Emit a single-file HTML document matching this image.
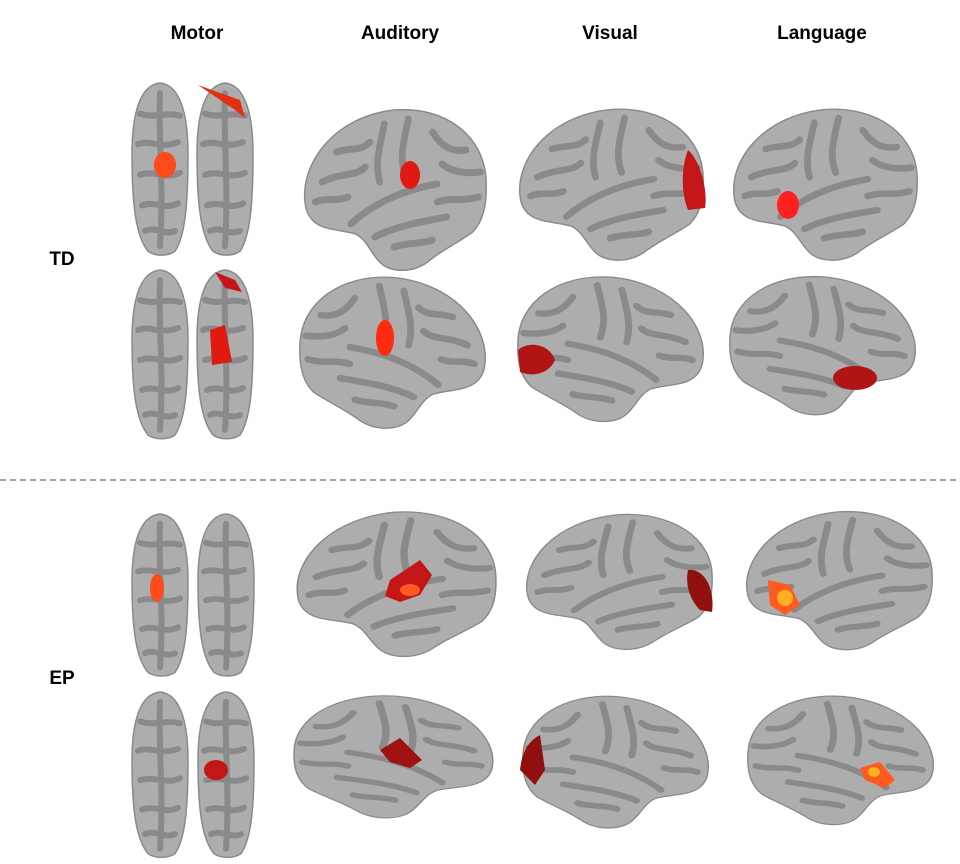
<!DOCTYPE html>
<html><head><meta charset="utf-8"><style>
body{margin:0;background:#fff;width:960px;height:864px;overflow:hidden;font-family:"Liberation Sans",sans-serif}
svg{position:absolute;left:0;top:0}
</style></head><body>
<svg width="960" height="864" viewBox="0 0 960 864" xmlns="http://www.w3.org/2000/svg">
<defs>
<g id="lat">
<path d="M8,105 C0,65 35,15 100,8 C155,4 195,35 196,80 C197,105 192,120 182,130 C168,140 150,148 135,160 C118,172 95,170 85,160 C75,150 72,138 60,132 C40,126 14,130 8,105 Z" fill="#adadad" stroke="#8a8a8a" stroke-width="1.5"/>
<g fill="none" stroke="#8a8a8a" stroke-width="7" stroke-linecap="round">
<path d="M55,122 C80,100 110,88 145,82"/>
<path d="M90,22 C85,45 80,60 85,80"/>
<path d="M115,17 C110,40 105,55 112,75"/>
<path d="M40,50 C55,45 65,50 75,40"/>
<path d="M25,80 C45,70 60,75 70,65"/>
<path d="M140,30 C150,45 160,50 175,48"/>
<path d="M145,100 C160,95 170,100 188,95"/>
<path d="M80,135 C100,125 125,120 155,115"/>
<path d="M150,62 C160,70 175,72 190,70"/>
<path d="M18,100 C30,95 40,100 52,95"/>
<path d="M100,145 C115,140 130,142 140,138"/>
</g>
</g>
<g id="top">
<path d="M30,0 C50,2 58,30 58,70 C58,120 55,150 45,165 C38,170 25,170 18,165 C6,150 2,120 2,70 C2,30 10,2 30,0 Z" fill="#adadad" stroke="#8a8a8a" stroke-width="1.5"/>
<g fill="none" stroke="#8a8a8a" stroke-width="6" stroke-linecap="round">
<path d="M10,30 C25,35 35,28 50,32"/>
<path d="M8,60 C20,55 30,65 48,58"/>
<path d="M10,90 C25,85 35,95 50,88"/>
<path d="M12,120 C25,115 35,125 48,118"/>
<path d="M15,145 C25,140 35,150 45,145"/>
<path d="M30,10 C28,50 34,100 30,160"/>
</g>
</g>
</defs>
<g font-weight="bold" font-size="19" fill="#000" text-anchor="middle">
<text x="197" y="39">Motor</text>
<text x="400" y="39">Auditory</text>
<text x="610" y="39">Visual</text>
<text x="822" y="39">Language</text>
<text x="62" y="265">TD</text>
<text x="62" y="684">EP</text>
</g>
<line x1="0" y1="480" x2="960" y2="480" stroke="#444" stroke-width="1" stroke-dasharray="6,4"/>

<use href="#top" transform="translate(130,83) scale(1,1.02)"/>
<use href="#top" transform="translate(195,83) scale(1,1.02)"/>
<ellipse cx="165" cy="165" rx="11" ry="13" fill="#ff4a1a"/>
<path d="M198,85 L240,100 L245,118 L235,110 Z" fill="#e03010"/>
<use href="#lat" transform="translate(298,102) scale(0.96,1.0)"/>
<ellipse cx="410" cy="175" rx="10" ry="14" fill="#e01a10"/>
<use href="#lat" transform="translate(513,102) scale(0.97,0.94)"/>
<path d="M688,150 C700,160 708,190 705,208 L688,210 C680,190 682,165 688,150 Z" fill="#c41616"/>
<use href="#lat" transform="translate(727,102) scale(0.97,0.94)"/>
<ellipse cx="788" cy="205" rx="11" ry="14" fill="#ff2020"/>

<use href="#top" transform="translate(130,270)"/>
<use href="#top" transform="translate(195,270)"/>
<path d="M210,330 L225,325 L232,362 L212,365 Z" fill="#e01a10"/>
<path d="M215,272 L235,280 L242,292 L225,288 Z" fill="#c41616"/>
<use href="#lat" transform="translate(492,270) scale(-0.98,0.94)"/>
<ellipse cx="385" cy="338" rx="9" ry="18" fill="#ff2a10"/>
<use href="#lat" transform="translate(710,270) scale(-0.98,0.9)"/>
<path d="M518,350 C530,340 550,345 555,360 C550,372 535,378 520,372 Z" fill="#b01414"/>
<use href="#lat" transform="translate(922,270) scale(-0.98,0.86)"/>
<ellipse cx="855" cy="378" rx="22" ry="12" fill="#b01414"/>

<use href="#top" transform="translate(130,514) scale(1,0.96)"/>
<use href="#top" transform="translate(196,514) scale(1,0.96)"/>
<ellipse cx="157" cy="588" rx="7" ry="14" fill="#ff4a1a"/>
<use href="#lat" transform="translate(290,505) scale(1.05,0.9)"/>
<path d="M390,580 L420,560 L432,575 L420,595 L400,602 L385,596 Z" fill="#c41616"/>
<ellipse cx="410" cy="590" rx="10" ry="6" fill="#ff5a20"/>
<use href="#lat" transform="translate(520,508) scale(0.98,0.84)"/>
<path d="M688,570 C705,568 715,590 712,612 L700,610 C690,600 685,585 688,570 Z" fill="#901010"/>
<use href="#lat" transform="translate(740,505) scale(0.98,0.86)"/>
<path d="M768,580 L790,585 L800,605 L785,615 L770,605 Z" fill="#ff5a20"/>
<ellipse cx="785" cy="598" rx="8" ry="8" fill="#ffb020"/>

<use href="#top" transform="translate(130,692) scale(1,0.98)"/>
<use href="#top" transform="translate(196,692) scale(1,0.98)"/>
<ellipse cx="216" cy="770" rx="12" ry="10" fill="#c41616"/>
<use href="#lat" transform="translate(500,690) scale(-1.05,0.76)"/>
<path d="M380,750 L400,738 L422,760 L410,768 L390,762 Z" fill="#a01212"/>
<use href="#lat" transform="translate(715,690) scale(-0.98,0.82)"/>
<path d="M520,770 C522,750 530,740 540,735 L545,770 L535,785 Z" fill="#901010"/>
<use href="#lat" transform="translate(940,690) scale(-0.98,0.8)"/>
<path d="M860,768 L880,762 L895,780 L885,788 L865,780 Z" fill="#ff5a20"/>
<ellipse cx="874" cy="772" rx="6" ry="5" fill="#ffb020"/>
</svg>
</body></html>
